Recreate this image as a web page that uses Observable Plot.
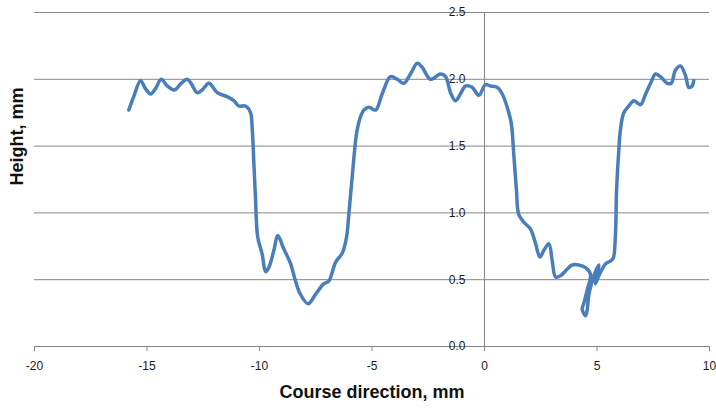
<!DOCTYPE html>
<html>
<head>
<meta charset="utf-8">
<script src="https://cdn.jsdelivr.net/npm/d3@7"></script>
<script src="https://cdn.jsdelivr.net/npm/@observablehq/plot@0.6"></script>
<style>
  html, body { margin: 0; padding: 0; background: #fff; }
  #chart { width: 716px; height: 408px; }
</style>
</head>
<body>
<div id="chart"></div>
<script>
const courseX = [-15.81,-15.59,-15.29,-15.07,-14.84,-14.62,-14.37,-14.10,-13.78,-13.48,-13.21,-13.04,-12.77,-12.55,-12.25,-11.88,-11.44,-11.14,-10.92,-10.62,-10.40,-10.32,-10.25,-10.18,-10.08,-9.88,-9.73,-9.59,-9.36,-9.19,-8.92,-8.62,-8.40,-8.18,-7.84,-7.51,-7.14,-6.92,-6.62,-6.32,-6.13,-6.03,-5.88,-5.73,-5.66,-5.51,-5.36,-5.14,-4.84,-4.55,-4.18,-3.88,-3.59,-3.29,-2.99,-2.77,-2.40,-1.96,-1.73,-1.51,-1.29,-1.07,-0.84,-0.55,-0.25,0.04,0.27,0.56,0.79,1.01,1.19,1.30,1.42,1.52,1.75,2.04,2.27,2.46,2.64,2.86,3.01,3.16,3.38,3.68,3.90,4.19,4.49,4.71,4.56,4.41,4.34,4.49,4.56,4.64,4.79,4.93,5.08,4.93,5.08,5.23,5.38,5.60,5.72,5.82,5.87,5.97,6.04,6.19,6.41,6.64,6.93,7.16,7.38,7.60,7.82,8.12,8.30,8.49,8.71,8.93,9.08,9.23,9.30];
const heightMM = [1.77,1.87,1.99,1.93,1.89,1.93,2.00,1.95,1.92,1.97,2.00,1.97,1.90,1.92,1.97,1.90,1.87,1.84,1.80,1.80,1.75,1.62,1.37,1.12,0.82,0.69,0.56,0.59,0.72,0.83,0.73,0.62,0.49,0.39,0.32,0.39,0.47,0.49,0.63,0.70,0.82,0.99,1.27,1.54,1.62,1.72,1.77,1.79,1.77,1.89,2.02,2.00,1.97,2.04,2.12,2.09,2.00,2.04,2.02,1.90,1.84,1.89,1.95,1.94,1.88,1.96,1.95,1.94,1.89,1.79,1.67,1.44,1.17,0.99,0.93,0.88,0.77,0.67,0.72,0.77,0.64,0.52,0.53,0.58,0.61,0.61,0.59,0.54,0.42,0.32,0.28,0.23,0.27,0.39,0.49,0.56,0.61,0.47,0.53,0.58,0.62,0.64,0.66,0.84,1.17,1.47,1.62,1.75,1.80,1.84,1.81,1.89,1.97,2.04,2.02,1.97,1.97,2.07,2.10,2.03,1.94,1.95,1.99];
const xTicks = [-20, -15, -10, -5, 0, 5, 10];
const yTicks = [0, 0.5, 1.0, 1.5, 2.0, 2.5];
const xTitle = "Course direction, mm";
const yTitle = "Height, mm";

const profile = courseX.map((x, i) => ({x, h: heightMM[i]}));
const gridColor = "#868686";

const chart = Plot.plot({
  width: 716,
  height: 408,
  marginLeft: 34,
  marginRight: 7,
  marginTop: 12,
  marginBottom: 62,
  style: {fontFamily: "'Liberation Sans', Arial, sans-serif", background: "#fff", color: "#1a1a1a"},
  x: {domain: [-20, 10], axis: null},
  y: {domain: [0, 2.5], axis: null},
  marks: [
    Plot.ruleY(yTicks, {stroke: gridColor, strokeWidth: 1}),
    Plot.ruleX([0], {y1: 0, y2: 2.5, stroke: gridColor, strokeWidth: 1}),
    Plot.axisX({ticks: xTicks, tickFormat: d => String(d), tickSize: 5, tickPadding: 10, fontSize: 12, stroke: gridColor, label: null}),
    Plot.text(yTicks, {x: 0, y: d => d, text: d => d.toFixed(1), textAnchor: "end", dx: -19, fontSize: 12, fill: "#1a1a1a"}),
    Plot.line(profile, {x: "x", y: "h", curve: "catmull-rom", stroke: "#4a7ebb", strokeWidth: 3.5, strokeLinejoin: "round", strokeLinecap: "round"}),
    Plot.text([xTitle], {frameAnchor: "bottom", dy: 51, fontSize: 18, fontWeight: "bold", fill: "#111"}),
    Plot.text([yTitle], {frameAnchor: "left", rotate: -90, dx: -17, dy: 6, fontSize: 18, fontWeight: "bold", fill: "#111"})
  ]
});
document.getElementById("chart").appendChild(chart);
</script>
</body>
</html>
